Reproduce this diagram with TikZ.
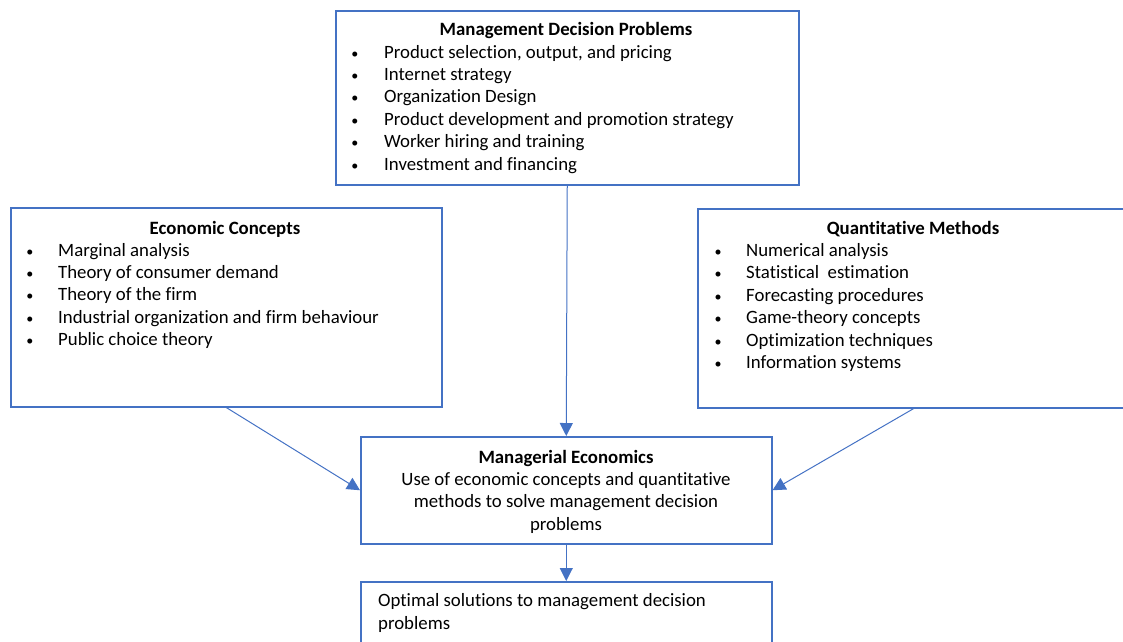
\documentclass[tikz,border=0pt]{standalone}
\usepackage{fontspec}
\setmainfont[Ligatures=NoCommon]{Carlito}
\usetikzlibrary{arrows.meta,positioning}
\definecolor{boxblue}{HTML}{4472C4}
\newcommand{\dotmark}{\scalebox{0.75}{\textbullet}}

\begin{document}
\begin{tikzpicture}[x=1pt,y=-1pt,
    every node/.style={font=\fontsize{18.8}{22.4}\selectfont},
    box/.style={draw=boxblue,line width=1.5pt,anchor=north west,inner sep=0pt},
    ttl/.style={anchor=base,inner sep=0pt,font=\fontsize{18.8}{22.4}\selectfont\bfseries},
    txt/.style={anchor=base,inner sep=0pt},
    itm/.style={anchor=base west,inner sep=0pt},
    link/.style={draw=boxblue,line width=1pt,-{Triangle[length=13pt,width=13pt]}}]
    \useasboundingbox (0,0) rectangle (1123,641);
    \clip (0,0) rectangle (1123,641);

    % boxes
    \node[box,minimum width=463pt,minimum height=174pt] (mdp) at (335,10) {};
    \node[box,minimum width=431pt,minimum height=199pt] (econ) at (10,207) {};
    \node[box,minimum width=432pt,minimum height=199pt] (quant) at (697,208) {};
    \node[box,minimum width=411pt,minimum height=107pt] (mecon) at (360,436) {};
    \node[box,minimum width=411pt,minimum height=90pt] (optsol) at (360,581) {};

    % management decision problems
    \node[ttl] (mdptitle) at (566,35) {Management Decision Problems};
    \foreach \t [count=\i] in {{Product selection, output, and pricing},{Internet strategy},
        {Organization Design},{Product development and promotion strategy},
        {Worker hiring and training},{Investment and financing}}{
      \node[txt] (mdpb\i) at (355,{58+22.4*(\i-1)}) {\dotmark};
      \node[itm] (mdpi\i) at (384,{58+22.4*(\i-1)}) {\t};
    }

    % economic concepts
    \node[ttl] (econtitle) at (225,234) {Economic Concepts};
    \foreach \t [count=\i] in {{Marginal analysis},{Theory of consumer demand},
        {Theory of the firm},{Industrial organization and firm behaviour},
        {Public choice theory}}{
      \node[txt] (econb\i) at (30,{256+22.4*(\i-1)}) {\dotmark};
      \node[itm] (econi\i) at (58,{256+22.4*(\i-1)}) {\t};
    }

    % quantitative methods
    \node[ttl] (quanttitle) at (913,234) {Quantitative Methods};
    \foreach \t [count=\i] in {{Numerical analysis},{Statistical~ estimation},
        {Forecasting procedures},{Game-theory concepts},
        {Optimization techniques},{Information systems}}{
      \node[txt] (quantb\i) at (718,{256+22.5*(\i-1)}) {\dotmark};
      \node[itm] (quanti\i) at (746,{256+22.5*(\i-1)}) {\t};
    }

    % managerial economics
    \node[ttl] (mecontitle) at (566,463) {Managerial Economics};
    \node[txt] (mecon1) at (566,485) {Use of economic concepts and quantitative};
    \node[txt] (mecon2) at (566,507.5) {methods to solve management decision};
    \node[txt] (mecon3) at (566,530) {problems};

    % optimal solutions
    \node[itm] (optsol1) at (378,606) {Optimal solutions to management decision};
    \node[itm] (optsol2) at (378,629) {problems};

    % connectors
    \draw[link] (mdp.south) -- (mecon.north);
    \draw[link] (econ.south) -- (mecon.west);
    \draw[link] (quant.south) -- (mecon.east);
    \draw[link] (mecon.south) -- (optsol.north);
\end{tikzpicture}
\end{document}
